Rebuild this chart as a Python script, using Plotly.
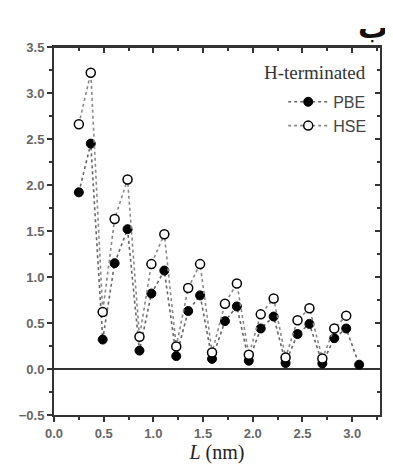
import plotly.graph_objects as go

# Data
L_nm = [0.25, 0.37, 0.49, 0.61, 0.74, 0.86, 0.98, 1.11, 1.23, 1.35, 1.47, 1.59,
        1.72, 1.84, 1.96, 2.08, 2.21, 2.33, 2.45, 2.57, 2.70, 2.82, 2.94, 3.07]
pbe = [1.92, 2.45, 0.32, 1.15, 1.52, 0.20, 0.82, 1.07, 0.14, 0.63, 0.80, 0.11,
       0.52, 0.68, 0.09, 0.44, 0.57, 0.065, 0.38, 0.49, 0.06, 0.335, 0.44, 0.047]
hse = [2.66, 3.22, 0.62, 1.63, 2.06, 0.35, 1.14, 1.465, 0.245, 0.88, 1.14, 0.18,
       0.71, 0.93, 0.155, 0.594, 0.767, 0.126, 0.53, 0.66, 0.115, 0.44, 0.58, None]

series_names = ["PBE", "HSE"]
legend_title = "H-terminated"
x_title = "<i>L</i> (nm)"
corner_label = "ب"

x_range = [0, 3.28]
y_range = [-0.5, 3.5]

fig = go.Figure()
fig.add_trace(go.Scatter(
    x=L_nm, y=pbe, name=series_names[0], mode="lines+markers",
    line=dict(color="#666", width=1.6, dash="dot"),
    marker=dict(symbol="circle", size=9, color="black",
                line=dict(color="black", width=1)),
))
fig.add_trace(go.Scatter(
    x=L_nm, y=hse, name=series_names[1], mode="lines+markers",
    line=dict(color="#888", width=1.6, dash="dot"),
    marker=dict(symbol="circle", size=9, color="white",
                line=dict(color="black", width=1.5)),
))
# transparent traces so the mirror (top / right) axes get drawn
fig.add_trace(go.Scatter(x=L_nm, y=pbe, xaxis="x2", yaxis="y",
                         mode="markers", marker=dict(size=1, color="rgba(0,0,0,0)"),
                         showlegend=False, hoverinfo="skip"))
fig.add_trace(go.Scatter(x=L_nm, y=pbe, xaxis="x", yaxis="y2",
                         mode="markers", marker=dict(size=1, color="rgba(0,0,0,0)"),
                         showlegend=False, hoverinfo="skip"))

tickfont = dict(family="Liberation Sans, Arial", size=13, color="#666",
                weight="bold")
common = dict(showline=True, linewidth=2, linecolor="#333", showgrid=False)
minor_out = dict(dtick=0.25, ticks="outside", ticklen=3, tickcolor="#333",
                 tickwidth=1.5)
minor_in = dict(dtick=0.25, ticks="inside", ticklen=3, tickcolor="#333",
                tickwidth=1.5)

fig.update_layout(
    width=385, height=461,
    margin=dict(l=43, r=11, t=39, b=54),
    paper_bgcolor="white", plot_bgcolor="white",
    showlegend=True,
    xaxis=dict(range=x_range, tick0=0, dtick=0.5, ticks="outside",
               tickwidth=1.5, tickcolor="#333", ticklen=5,
               tickformat=".1f", tickfont=tickfont, minor=minor_out,
               mirror=True,
               title=dict(text=x_title,
                          font=dict(family="Liberation Serif, Times New Roman",
                                    size=20, color="#222"),
                          standoff=3),
               zeroline=False, **common),
    yaxis=dict(range=y_range, tick0=0, dtick=0.5, ticks="outside",
               tickwidth=1.5, tickcolor="#333", ticklen=5,
               tickformat=".1f", tickfont=tickfont, minor=minor_out,
               mirror=True,
               zeroline=True, zerolinewidth=2, zerolinecolor="#333",
               **common),
    xaxis2=dict(range=x_range, overlaying="x", anchor="free", position=1,
                side="top",
                tickmode="linear", tick0=0, dtick=0.5,
                ticks="inside", ticklen=5, tickwidth=1.5, tickcolor="#333",
                showticklabels=False, zeroline=False,
                minor=minor_in, **common),
    yaxis2=dict(range=y_range, overlaying="y", anchor="x", side="right",
                tickmode="linear", tick0=0, dtick=0.5,
                ticks="inside", ticklen=5, tickwidth=1.5, tickcolor="#333",
                showticklabels=False, zeroline=False,
                minor=minor_in, **common),
    legend=dict(x=0.973, y=0.897, xanchor="right", yanchor="top",
                bgcolor="rgba(0,0,0,0)",
                font=dict(family="Liberation Sans, Arial", size=16, color="#444"),
                tracegroupgap=0, itemwidth=40),
    annotations=[
        dict(text=legend_title, xref="paper", yref="paper", x=0.962, y=0.932,
             xanchor="right", yanchor="middle", showarrow=False,
             font=dict(family="Liberation Serif, Times New Roman", size=19,
                       color="#333")),
        dict(text="<b>" + corner_label + "</b>", xref="paper", yref="paper",
             x=1.03, y=1.106, xanchor="right", yanchor="top", showarrow=False,
             font=dict(family="DejaVu Sans", size=30, color="#111")),
    ],
)

fig.write_html("out.html")
